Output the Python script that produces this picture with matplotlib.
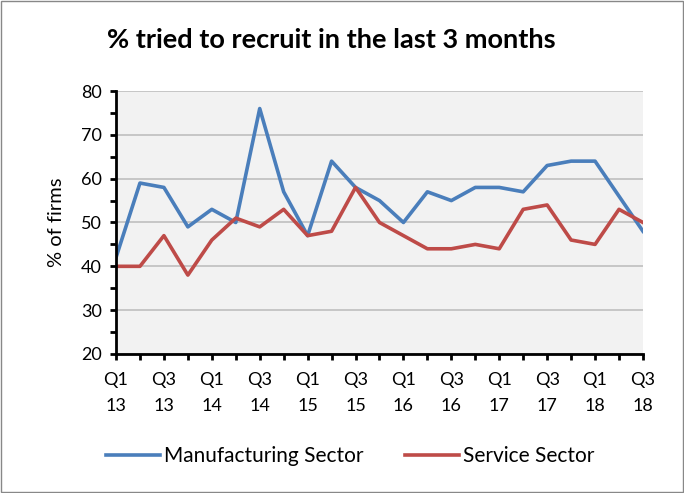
import numpy as np
import matplotlib.pyplot as plt
from matplotlib.ticker import MultipleLocator

quarters = ['Q1\n13', 'Q2\n13', 'Q3\n13', 'Q4\n13',
            'Q1\n14', 'Q2\n14', 'Q3\n14', 'Q4\n14',
            'Q1\n15', 'Q2\n15', 'Q3\n15', 'Q4\n15',
            'Q1\n16', 'Q2\n16', 'Q3\n16', 'Q4\n16',
            'Q1\n17', 'Q2\n17', 'Q3\n17', 'Q4\n17',
            'Q1\n18', 'Q2\n18', 'Q3\n18']
manufacturing = [42, 59, 58, 49, 53, 50, 76, 57, 47, 64, 58, 55,
                 50, 57, 55, 58, 58, 57, 63, 64, 64, 56, 48]
service = [40, 40, 47, 38, 46, 51, 49, 53, 47, 48, 58, 50,
           47, 44, 44, 45, 44, 53, 54, 46, 45, 53, 50]

plt.rcParams['font.family'] = ['Lato', 'DejaVu Sans']

fig = plt.figure(figsize=(6.84, 4.93), dpi=100)
ax = fig.add_axes([0.1696, 0.282, 0.7704, 0.5334])

x = np.arange(len(quarters))
ax.plot(x, manufacturing, color='#4A7EBB', lw=2.6, label='Manufacturing Sector', solid_joinstyle='round')
ax.plot(x, service, color='#BE4B48', lw=2.6, label='Service Sector', solid_joinstyle='round')

ax.set_xlim(0, len(quarters) - 1)
ax.set_ylim(20, 80)
ax.set_facecolor('#F2F2F2')
ax.yaxis.set_major_locator(MultipleLocator(10))
ax.yaxis.set_minor_locator(MultipleLocator(5))
ax.grid(axis='y', which='major', color='#BFBFBF', lw=1.2)
ax.set_axisbelow(True)

ax.set_xticks(x)
ax.set_xticklabels([q if i % 2 == 0 else '' for i, q in enumerate(quarters)], linespacing=1.75)

for s in ['top', 'right']:
    ax.spines[s].set_visible(False)
for s in ['left', 'bottom']:
    ax.spines[s].set_linewidth(2)
    ax.spines[s].set_color('black')
ax.tick_params(axis='both', which='both', width=2, length=4, labelsize=13, color='black')
ax.tick_params(axis='x', pad=9)
ax.tick_params(axis='y', pad=6)
ax.set_ylabel('% of firms', fontsize=14.5, labelpad=12)

fig.text(0.485, 0.918, '% tried to recruit in the last 3 months',
         ha='center', va='center', fontsize=19.5, fontweight='bold')

fig.legend(loc='center', bbox_to_anchor=(0.512, 0.075), ncol=2, frameon=False,
           fontsize=15, handlelength=2.6, handletextpad=0.2, columnspacing=2.0)

# chart border
fig.patches.append(plt.Rectangle((0.002, 0.002), 0.996, 0.996, transform=fig.transFigure,
                                 fill=False, edgecolor='#888888', lw=1))

fig.savefig('out.png', dpi=100)
